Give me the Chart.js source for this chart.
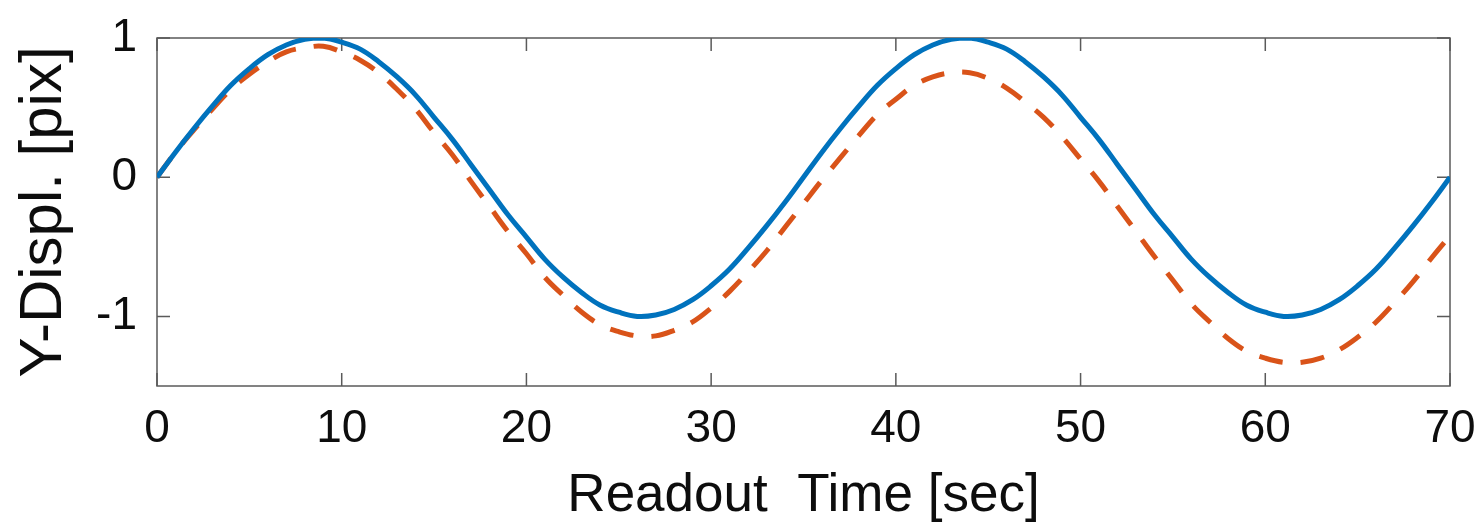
<!DOCTYPE html>
<html>
<head>
<meta charset="utf-8">
<script src="https://cdn.jsdelivr.net/npm/chart.js@4.4.0/dist/chart.umd.min.js"></script>
<style>
html,body{margin:0;padding:0;background:#fff;}
canvas{display:block;}
</style>
</head>
<body>
<canvas id="c" width="1479" height="525"></canvas>
<script>
// Readout time [sec]
const times = [0,1,2,3,4,5,6,7,8,9,10,11,12,13,14,15,16,17,18,19,20,21,22,23,24,25,26,27,28,29,30,31,32,33,34,35,36,37,38,39,40,41,42,43,44,45,46,47,48,49,50,51,52,53,54,55,56,57,58,59,60,61,62,63,64,65,66,67,68,69,70];
// Solid blue curve (Y-Displ. [pix])
const solidSeries = [0,0.18,0.35,0.51,0.66,0.78,0.88,0.95,0.99,1.00,0.97,0.92,0.83,0.72,0.59,0.43,0.27,0.09,-0.09,-0.27,-0.43,-0.59,-0.72,-0.83,-0.92,-0.97,-1.00,-0.99,-0.95,-0.88,-0.78,-0.66,-0.51,-0.35,-0.18,0,0.18,0.35,0.51,0.66,0.78,0.88,0.95,0.99,1.00,0.97,0.92,0.83,0.72,0.59,0.43,0.27,0.09,-0.09,-0.27,-0.43,-0.59,-0.72,-0.83,-0.92,-0.97,-1.00,-0.99,-0.95,-0.88,-0.78,-0.66,-0.51,-0.35,-0.18,0];
// Dashed orange curve (Y-Displ. [pix])
const dashedSeries = [0,0.18,0.34,0.49,0.63,0.74,0.83,0.90,0.93,0.94,0.90,0.84,0.75,0.63,0.49,0.32,0.16,-0.03,-0.21,-0.39,-0.55,-0.72,-0.85,-0.97,-1.06,-1.11,-1.14,-1.14,-1.10,-1.04,-0.94,-0.82,-0.68,-0.53,-0.36,-0.19,-0.02,0.14,0.30,0.45,0.56,0.66,0.72,0.75,0.75,0.71,0.64,0.54,0.43,0.29,0.13,-0.03,-0.21,-0.39,-0.57,-0.74,-0.91,-1.04,-1.16,-1.25,-1.30,-1.33,-1.33,-1.30,-1.24,-1.15,-1.04,-0.90,-0.75,-0.58,-0.42];
const xTicks = [0,10,20,30,40,50,60,70];
const yTicks = [-1,0,1];
const xTitle = 'Readout  Time [sec]';
const yTitle = 'Y-Displ. [pix]';

const toPoints = (xs, ys) => xs.map((t, i) => ({x: t, y: ys[i]}));

const frame = {
  id: 'frame',
  beforeDatasetsDraw(chart) {
    const {ctx, chartArea: a, scales: {x, y}} = chart;
    ctx.save();
    ctx.strokeStyle = '#5a5a5a';
    ctx.lineWidth = 1.5;
    ctx.strokeRect(a.left, a.top, a.right - a.left, a.bottom - a.top);
    ctx.beginPath();
    const L = 13;
    xTicks.forEach(v => {
      const p = x.getPixelForValue(v);
      ctx.moveTo(p, a.bottom); ctx.lineTo(p, a.bottom - L);
      ctx.moveTo(p, a.top); ctx.lineTo(p, a.top + L);
    });
    yTicks.forEach(v => {
      const p = y.getPixelForValue(v);
      ctx.moveTo(a.left, p); ctx.lineTo(a.left + L, p);
      ctx.moveTo(a.right, p); ctx.lineTo(a.right - L, p);
    });
    ctx.stroke();
    ctx.restore();
  }
};

const zeroPad = s => { s.paddingLeft = 0; s.paddingRight = 0; s.paddingTop = 0; s.paddingBottom = 0; };

new Chart(document.getElementById('c'), {
  type: 'line',
  data: {
    datasets: [
      {
        data: toPoints(times, solidSeries),
        borderColor: '#0072BD',
        borderWidth: 5,
        pointRadius: 0,
        tension: 0.4,
        fill: false
      },
      {
        data: toPoints(times, dashedSeries),
        borderColor: '#D95319',
        borderWidth: 5,
        borderDash: [24, 18],
        borderCapStyle: 'butt',
        pointRadius: 0,
        tension: 0.4,
        fill: false
      }
    ]
  },
  options: {
    responsive: false,
    animation: false,
    events: [],
    layout: {padding: {top: 38, right: 29, left: 0, bottom: 0}},
    plugins: {legend: {display: false}, tooltip: {enabled: false}},
    scales: {
      x: {
        type: 'linear',
        min: 0, max: 70,
        afterBuildTicks: s => { s.ticks = xTicks.map(v => ({value: v})); },
        afterFit: s => { s.height = 139; zeroPad(s); },
        grid: {display: false, drawTicks: false},
        border: {display: false},
        ticks: {
          color: '#0d0d0d',
          padding: 20,
          maxRotation: 0,
          font: {family: "'Liberation Sans', Arial, sans-serif", size: 46, lineHeight: 1}
        },
        title: {
          display: true,
          text: xTitle,
          color: '#0d0d0d',
          padding: {top: 0, bottom: 2},
          font: {family: "'Liberation Sans', Arial, sans-serif", size: 53, lineHeight: 1}
        }
      },
      y: {
        type: 'linear',
        min: -1.5, max: 1,
        afterBuildTicks: s => { s.ticks = yTicks.map(v => ({value: v})); },
        afterFit: s => { s.width = 157; zeroPad(s); },
        grid: {display: false, drawTicks: false},
        border: {display: false},
        ticks: {
          color: '#0d0d0d',
          padding: 20,
          font: {family: "'Liberation Sans', Arial, sans-serif", size: 46, lineHeight: 1}
        },
        title: {
          display: true,
          text: yTitle,
          color: '#0d0d0d',
          padding: {top: 14, bottom: 0},
          font: {family: "'Liberation Sans', Arial, sans-serif", size: 60, lineHeight: 1}
        }
      }
    }
  },
  plugins: [frame]
});
</script>
</body>
</html>
